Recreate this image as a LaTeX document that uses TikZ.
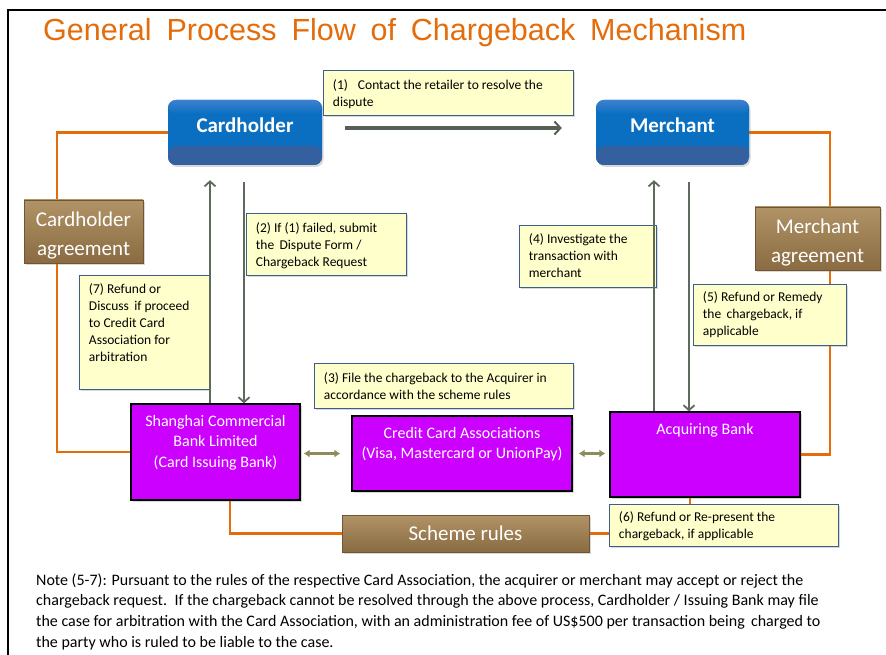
\documentclass[tikz,border=0pt]{standalone}
\usepackage{fontspec}
\setmainfont{Carlito}
\newfontfamily\titlefont[WordSpace=1.75]{Liberation Sans}
\usetikzlibrary{arrows.meta,shadows}
\definecolor{org}{HTML}{E46C0A}
\definecolor{noteyel}{HTML}{FFFFCC}
\definecolor{notebd}{HTML}{3B5E8C}
\definecolor{mag}{HTML}{CC00FF}
\definecolor{bluemain}{HTML}{0A6FC0}
\definecolor{bluetop}{HTML}{3E80D0}
\definecolor{bluebot}{HTML}{34609F}
\definecolor{brtop}{HTML}{B09366}
\definecolor{brbot}{HTML}{8A6B42}
\definecolor{brbd}{HTML}{705530}
\definecolor{arrg}{HTML}{5E6A5E}
\definecolor{dblc}{HTML}{8E8C58}
\pgfdeclarelayer{bg}
\pgfsetlayers{bg,main}
\newcommand\nbody[4]{\parbox[c][#2pt][t]{#1pt}{\raggedright\vspace*{#3pt}\strut #4}}
\newcommand\mbody[4]{\parbox[c][#2pt][t]{#1pt}{\centering\vspace*{#3pt}\strut #4}}
\begin{document}
\begin{tikzpicture}[x=1pt,y=-1pt,
  note/.style={draw=notebd, line width=0.9pt, fill=noteyel, inner xsep=9.5pt, inner ysep=0pt,
    anchor=north west, font=\fontsize{13.5}{17}\selectfont,
    drop shadow={shadow xshift=2pt,shadow yshift=-2pt,opacity=0.3}},
  bluebox/.style={rounded corners=8pt, minimum width=154pt, minimum height=65pt, inner sep=0pt,
    text=white, font=\bfseries\fontsize{21}{24}\selectfont, fill=bluemain,
    text height=13pt, text depth=13pt,
    drop shadow={shadow xshift=1.5pt,shadow yshift=-2pt,opacity=0.3},
    path picture={
      \fill[bluebot] (path picture bounding box.south west) rectangle ([yshift=19pt]path picture bounding box.south east);
      \shade[top color=bluetop,bottom color=bluemain] (path picture bounding box.north west) rectangle ([yshift=-14pt]path picture bounding box.north east);
    }},
  magbox/.style={draw=black, line width=1.2pt, fill=mag, text=white, inner sep=0pt,
    font=\fontsize{16}{20.5}\selectfont,
    drop shadow={shadow xshift=2pt,shadow yshift=-2pt,opacity=0.3}},
  brbox/.style={draw=brbd, line width=0.8pt, top color=brtop, bottom color=brbot, text=white,
    inner sep=0pt, align=center, font=\fontsize{21}{29}\selectfont,
    drop shadow={shadow xshift=2pt,shadow yshift=-2pt,opacity=0.3}},
  orline/.style={draw=org, line width=2.5pt},
  varrow/.style={draw=arrg, line width=2.2pt, -{Straight Barb[length=5pt,width=11pt,line width=1.8pt]}},
  harrow/.style={draw=arrg!90!black, line width=3.2pt, -{Straight Barb[length=6pt,width=13pt,line width=2pt]}},
  dblarrow/.style={draw=dblc, line width=3pt, {Latex[length=6pt,width=8pt]}-{Latex[length=6pt,width=8pt]}}
]
\useasboundingbox (0,0) rectangle (886,655);
\begin{pgfonlayer}{bg}
\fill[white] (0,0) rectangle (886,655);
\end{pgfonlayer}
\draw[line width=2pt] (8,655) -- (8,10) -- (886,10);

\node[anchor=base west, text=org, font=\titlefont\fontsize{30.5}{31}\selectfont, inner sep=0pt] (title) at (43,41) {General Process Flow of Chargeback Mechanism};

% main boxes
\node[bluebox] (ch) at (245,132.5) {Cardholder};
\node[bluebox, minimum width=153pt] (me) at (672.5,132.5) {Merchant};

\node[brbox] (ca) at (83.5,231.5) {\mbody{119}{63}{6}{Cardholder\\agreement}};
\node[brbox] (ma) at (817.5,238.5) {\mbody{125}{63}{6}{Merchant\\agreement}};

\node[magbox] (shb) at (215.5,452) {\mbody{169}{96}{8}{Shanghai Commercial\\Bank Limited\\(Card Issuing Bank)}};
\node[magbox, font=\fontsize{16}{19.5}\selectfont] (cca) at (462,453.5) {\mbody{220}{75}{9}{Credit Card Associations\\(Visa, Mastercard or UnionPay)}};
\node[magbox] (acq) at (705,454.5) {\mbody{190}{85}{8}{Acquiring Bank}};

\node[brbox, minimum width=247pt, minimum height=37pt] (sr) at (465.5,533.5) {Scheme rules};

% notes
\node[note] (n1) at (323,70) {\nbody{231}{45}{7}{\hangindent=25pt\hangafter=1 \makebox[25pt][l]{(1)}Contact the retailer to resolve the\\dispute}};
\node[note] (n2) at (246,213) {\nbody{141}{62}{7}{(2) If (1) failed, submit\\the\, Dispute Form /\\Chargeback Request}};
\node[note] (n7) at (79,275) {\nbody{111}{114}{6}{(7) Refund or\\Discuss\, if proceed\\to Credit Card\\Association for\\arbitration}};
\node[note] (n3) at (314,363) {\nbody{240}{45}{7}{(3) File the chargeback to the Acquirer in\\accordance with the scheme rules}};
\node[note] (n4) at (519,225) {\nbody{118}{62}{6}{(4) Investigate the\\transaction with\\merchant}};
\node[note] (n5) at (693,284) {\nbody{134}{61}{5}{(5) Refund or Remedy\\the\, chargeback, if\\applicable}};
\node[note] (n6) at (609,504) {\nbody{210}{42}{5}{(6) Refund or Re-present the\\chargeback, if applicable}};

% bottom note
\node[anchor=base west, inner sep=0pt, font=\fontsize{16}{20.7}\selectfont] (foot) at (36,585)
 {\parbox[t]{845pt}{\raggedright Note (5-7): Pursuant to the rules of the respective Card Association, the acquirer or merchant may accept or reject the\\
 chargeback request.\, If the chargeback cannot be resolved through the above process, Cardholder / Issuing Bank may file\\
 the case for arbitration with the Card Association, with an administration fee of US\$500 per transaction being\, charged to\\
 the party who is ruled to be liable to the case.}};

% arrows
\draw[harrow, shorten <=23pt, shorten >=34pt] ([yshift=4.5pt]ch.east) -- ([yshift=4.5pt]me.west);

\coordinate (u1) at ([xshift=-5.5pt]shb.north);
\coordinate (d1) at ([xshift=28.5pt]shb.north);
\coordinate (u2) at ([xshift=-51pt]acq.north);
\coordinate (d2) at ([xshift=-16pt]acq.north);
\draw[varrow, shorten >=15pt] (u1) -- (u1 |- ch.south);
\draw[varrow, shorten <=17pt] (d1 |- ch.south) -- (d1);
\draw[varrow, shorten >=15pt] (u2) -- (u2 |- me.south);
\draw[varrow, shorten <=17pt] (d2 |- me.south) -- (d2);

\draw[dblarrow, shorten <=3pt, shorten >=11pt] (shb.east |- cca.west) -- (cca.west);
\draw[dblarrow, shorten <=6pt, shorten >=4pt] (cca.east) -- (cca.east -| acq.west);

% orange connectors
\begin{pgfonlayer}{bg}
\coordinate (lc) at (57,300);
\coordinate (rc) at (830,300);
\draw[orline] (ch.west) -| (lc) |- (shb.west);
\draw[orline] (me.east) -| (rc) |- (acq.east);
\draw[orline] ([xshift=14.5pt]shb.south) |- (sr.west);
\draw[orline] (sr.east) -| ([xshift=-15pt]acq.south);
\end{pgfonlayer}
\end{tikzpicture}
\end{document}
